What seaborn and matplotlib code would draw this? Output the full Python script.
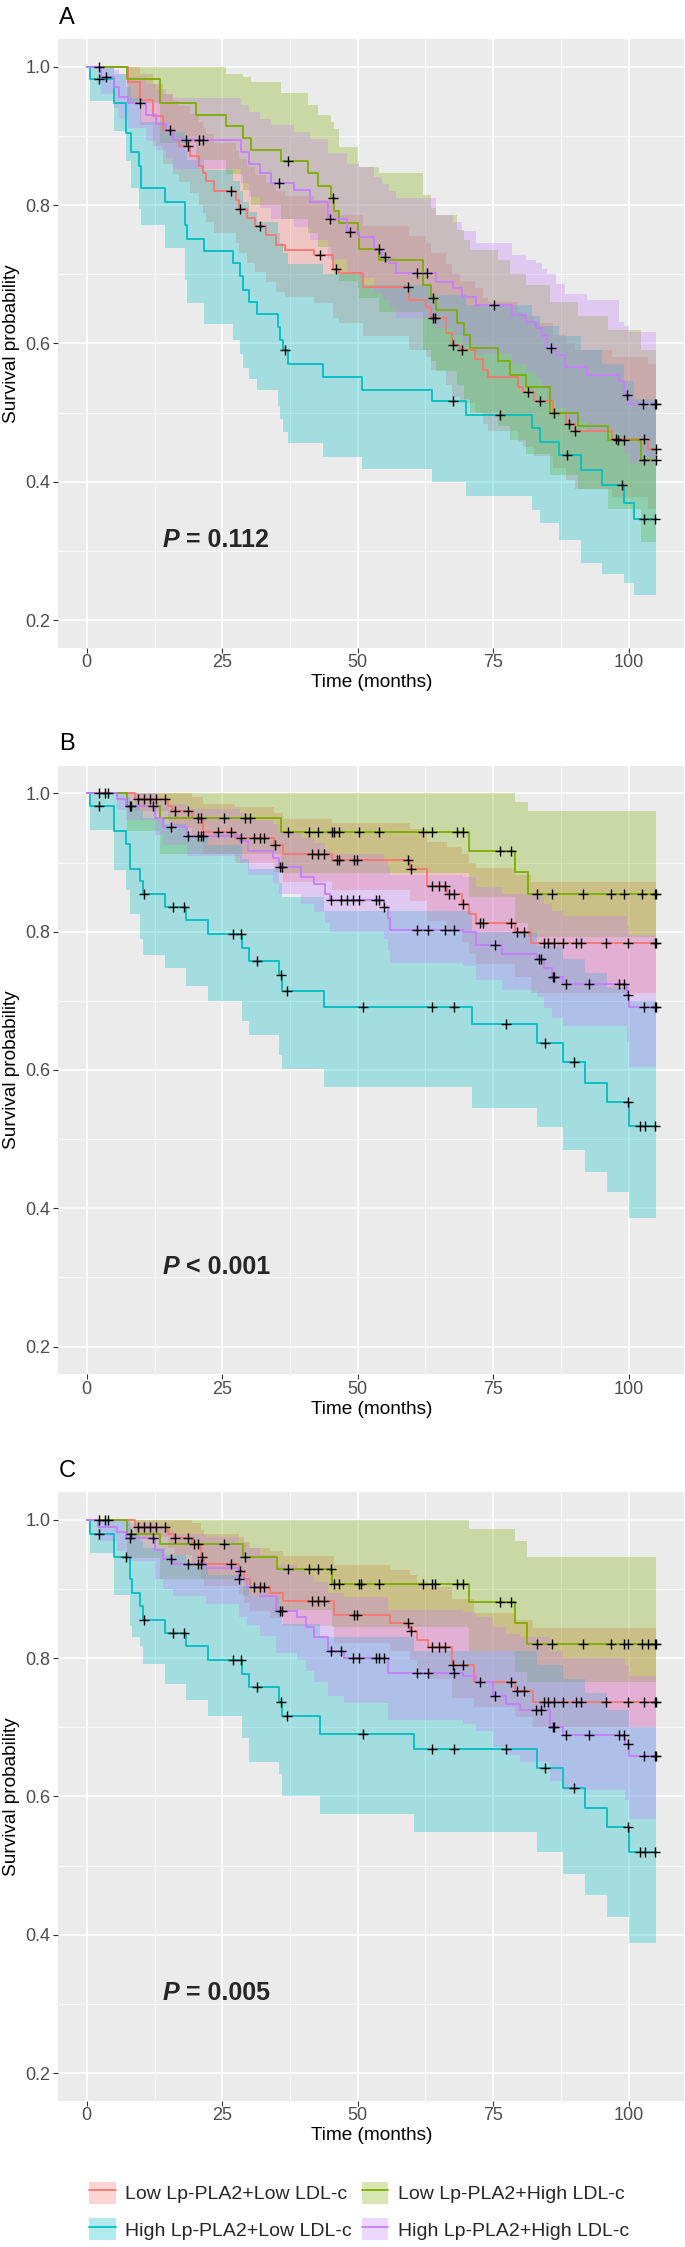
import numpy as np
import matplotlib
matplotlib.use("Agg")
import matplotlib.pyplot as plt
from matplotlib.patches import Patch
from matplotlib.lines import Line2D
import seaborn as sns

# group keys: ll = Low Lp-PLA2+Low LDL-c, lh = Low Lp-PLA2+High LDL-c,
#             hl = High Lp-PLA2+Low LDL-c, hh = High Lp-PLA2+High LDL-c
labels = {
    "ll": "Low Lp-PLA2+Low LDL-c",
    "lh": "Low Lp-PLA2+High LDL-c",
    "hl": "High Lp-PLA2+Low LDL-c",
    "hh": "High Lp-PLA2+High LDL-c",
}
pvals = ["= 0.112", "< 0.001", "= 0.005"]
panel_tags = ["A", "B", "C"]
x_ticks = [0, 25, 50, 75, 100]
y_ticks = [0.2, 0.4, 0.6, 0.8, 1.0]
end_time = 105

# ---------------- panel A ----------------
a_ll_t = [0, 7.6, 9.8, 12.2, 14.1, 15.9, 17.1, 19.0, 20.8, 21.4, 22.0, 23.5, 27.5, 28.0, 29.5, 31.0, 33.0, 35.0, 36.5, 42.0,
          45.5, 46.6, 50.9, 59.5, 62.6, 63.5, 66.2, 67.3, 68.8, 71.6, 73.2, 74.1, 79.6, 80.5, 82.5, 86.0, 88.5, 90.0, 97.0, 103.5]
a_ll_s = [1, .978, .952, .928, .908, .894, .885, .871, .856, .846, .834, .820, .807, .794, .781, .769, .756, .742, .735, .728,
          .707, .701, .682, .663, .653, .636, .615, .598, .590, .578, .561, .552, .537, .530, .517, .500, .484, .473, .462, .447]
a_ll_lo = [1, .95, .915, .885, .86, .845, .833, .817, .80, .788, .775, .76, .745, .73, .716, .703, .689, .674, .667, .659,
           .637, .63, .61, .59, .58, .562, .54, .522, .514, .50, .483, .474, .458, .45, .437, .42, .403, .39, .378, .36]
a_ll_hi = [1, 1, .99, .975, .96, .95, .943, .932, .92, .912, .902, .89, .878, .866, .855, .844, .832, .82, .813, .807,
           .79, .785, .77, .755, .745, .73, .715, .70, .69, .68, .665, .66, .645, .64, .63, .612, .60, .59, .58, .57]
a_ll_cens = [2.2, 18.7, 26.6, 28.2, 31.9, 43.0, 46.0, 59.2, 63.8, 64.2, 67.5, 69.2, 81.5, 83.6, 88.9, 90.1, 97.6, 102.8, 105]

a_lh_t = [0, 7.5, 13.5, 20.2, 25.6, 28.8, 30.3, 35.9, 40.8, 42.6, 45.0, 45.7, 46.6, 50.0, 50.3, 54.0, 62.0, 63.5, 64.5,
          68.4, 69.6, 70.8, 75.9, 78.0, 81.0, 85.4, 90.6, 96.1, 102.3]
a_lh_s = [1, .982, .947, .930, .914, .897, .880, .863, .846, .827, .810, .792, .774, .757, .737, .720, .684, .666, .648,
          .630, .612, .593, .574, .554, .537, .499, .480, .460, .431]
a_lh_lo = [1, .947, .89, .865, .845, .822, .80, .78, .76, .74, .72, .70, .69, .68, .665, .645, .59, .575, .56,
           .54, .52, .50, .48, .46, .44, .41, .39, .36, .313]
a_lh_hi = [1, 1, 1, 1, .99, .985, .978, .962, .945, .93, .92, .91, .884, .863, .855, .846, .815, .795, .785,
           .764, .75, .735, .72, .70, .685, .66, .64, .62, .59]
a_lh_cens = [37.1, 45.4, 53.9, 63.9, 86.2, 98.0, 99.2, 102.8, 105]

a_hl_t = [0, 0.6, 5.0, 7.3, 8.1, 9.7, 10.1, 14.5, 18.1, 18.5, 21.7, 27.0, 28.3, 28.8, 30.0, 31.4, 35.2, 35.7, 36.2, 37.1,
          43.5, 50.8, 63.7, 69.9, 82.2, 83.7, 87.1, 91.1, 95.1, 99.1, 100.9]
a_hl_s = [1, .982, .947, .904, .877, .857, .824, .804, .771, .751, .733, .716, .697, .677, .660, .643, .624, .605, .591, .570,
          .552, .533, .516, .496, .477, .458, .439, .417, .395, .369, .346]
a_hl_lo = [1, .95, .907, .864, .824, .794, .771, .738, .691, .658, .628, .605, .585, .565, .548, .532, .51, .49, .472, .456,
           .436, .419, .399, .379, .359, .34, .316, .283, .266, .253, .236]
a_hl_hi = [1, 1, .99, .97, .955, .94, .92, .905, .88, .865, .85, .835, .82, .805, .79, .775, .76, .745, .73, .715,
           .70, .685, .67, .655, .64, .625, .61, .59, .57, .545, .52]
a_hl_cens = [2.3, 36.5, 67.6, 76.3, 88.6, 98.8, 102.8, 104.8]

a_hh_t = [0, 2.6, 5.0, 5.9, 7.6, 11.0, 12.8, 14.6, 16.0, 28.5, 30.0, 32.0, 34.0, 38.3, 41.1, 44.5, 48.0, 50.3, 53.0,
          54.5, 55.8, 57.0, 64.5, 67.5, 69.3, 71.8, 78.5, 81.0, 82.8, 84.0, 85.0, 86.5, 88.3, 92.3, 98.2, 99.2, 100.0]
a_hh_s = [1, .985, .970, .956, .947, .930, .917, .908, .894, .877, .860, .846, .832, .822, .805, .780, .761, .754, .735,
          .725, .716, .701, .689, .680, .667, .655, .641, .631, .622, .610, .593, .583, .566, .554, .545, .525, .513]
a_hh_lo = [1, .96, .94, .925, .912, .893, .88, .868, .852, .832, .812, .796, .78, .768, .749, .722, .702, .694, .673,
           .662, .652, .636, .622, .612, .598, .585, .57, .558, .548, .535, .517, .506, .487, .474, .464, .442, .427]
a_hh_hi = [1, 1, .995, .99, .985, .975, .968, .96, .955, .945, .935, .925, .915, .905, .895, .875, .86, .855, .84,
           .83, .82, .81, .785, .775, .762, .745, .728, .72, .716, .708, .70, .686, .672, .663, .631, .625, .617]
a_hh_cens = [3.5, 9.8, 15.4, 18.4, 20.8, 21.4, 35.5, 44.9, 48.6, 55.0, 61.0, 62.7, 75.1, 85.6, 99.6, 102.6, 104.8, 105]

# ---------------- panel B ----------------
b_ll_t = [0, 8.9, 14.9, 15.7, 19.4, 21.5, 27.4, 34.5, 36.3, 45.2, 59.7, 62.7, 66.5, 69.2, 70.6, 71.8, 79.0, 81.9]
b_ll_s = [1, .992, .982, .974, .964, .944, .936, .925, .913, .903, .891, .866, .854, .840, .826, .813, .799, .783]
b_ll_lo = [1, .975, .96, .95, .937, .912, .90, .886, .872, .86, .845, .815, .80, .785, .768, .753, .735, .712]
b_ll_hi = [1, 1, 1, 1, .995, .985, .98, .972, .963, .957, .948, .93, .922, .912, .90, .892, .882, .872]
b_ll_cens = [2.3, 3.4, 4.0, 9.5, 10.5, 11.7, 12.7, 14.5, 16.3, 18.7, 20.6, 21.1, 24.2, 26.6, 28.4, 30.8, 31.9, 32.7,
             34.8, 41.5, 42.7, 43.7, 46.1, 46.6, 49.4, 49.9, 59.3, 59.8, 63.7, 64.9, 66.1, 66.9, 67.7, 69.4, 72.6,
             73.2, 78.2, 79.4, 80.6, 84.3, 85.1, 86.3, 87.9, 90.3, 91.1, 95.8, 99.8, 104.8, 105]

b_lh_t = [0, 7.5, 13.5, 35.9, 70.6, 79.0, 81.5]
b_lh_s = [1, .982, .964, .944, .916, .886, .854]
b_lh_lo = [1, .945, .913, .885, .85, .813, .793]
b_lh_hi = [1, 1, 1, 1, 1, .987, .974]
b_lh_cens = [8.1, 25.4, 29.2, 30.2, 37.1, 41.0, 42.6, 45.2, 45.6, 46.6, 50.2, 53.9, 62.1, 63.7, 68.4, 69.4, 76.2,
             78.2, 83.1, 85.9, 91.5, 96.8, 99.2, 102.4, 104.8, 105]

b_hl_t = [0, 0.6, 5.0, 7.3, 7.9, 9.8, 10.3, 14.5, 18.4, 22.4, 28.6, 30.0, 35.5, 36.1, 43.7, 71.0, 83.1, 87.9, 91.9, 96.0, 100.0]
b_hl_s = [1, .982, .946, .927, .891, .873, .854, .836, .817, .797, .777, .757, .737, .714, .691, .666, .639, .611, .581, .554, .519]
b_hl_lo = [1, .947, .889, .86, .826, .79, .767, .747, .722, .70, .671, .651, .621, .601, .575, .545, .517, .485, .452, .424, .386]
b_hl_hi = [1, 1, 1, .995, .985, .975, .965, .955, .94, .925, .905, .89, .87, .85, .83, .80, .78, .76, .74, .72, .70]
b_hl_cens = [2.3, 10.5, 16.0, 17.9, 27.0, 28.4, 31.5, 35.9, 36.9, 51.0, 63.7, 67.7, 77.3, 84.5, 89.9, 99.8, 102.0, 103.0, 104.8]

b_hh_t = [0, 5.6, 7.3, 12.5, 14.1, 18.5, 28.2, 29.8, 34.3, 35.5, 39.5, 41.9, 44.0, 44.8, 54.8, 55.6, 56.0, 69.4, 71.8,
          76.6, 83.1, 84.3, 85.9, 87.9, 99.6, 100.0]
b_hh_s = [1, .992, .982, .964, .951, .939, .931, .916, .906, .893, .879, .869, .854, .846, .836, .820, .803, .799, .781,
          .768, .760, .747, .734, .724, .709, .691]
b_hh_lo = [1, .976, .962, .94, .925, .91, .90, .882, .87, .855, .84, .828, .812, .80, .79, .772, .755, .75, .73,
           .715, .705, .69, .675, .663, .64, .605]
b_hh_hi = [1, 1, 1, .99, .985, .978, .972, .962, .955, .946, .936, .928, .918, .912, .905, .894, .882, .879, .865,
           .855, .85, .84, .83, .822, .81, .795]
b_hh_cens = [7.9, 12.3, 15.5, 18.6, 20.6, 21.1, 21.4, 35.6, 36.0, 45.0, 47.0, 48.0, 49.2, 50.2, 53.4, 53.9, 54.9,
             60.9, 62.9, 66.1, 67.7, 75.4, 83.5, 83.9, 86.0, 86.3, 88.5, 92.6, 98.2, 99.2, 99.8, 102.8, 104.8, 105]

# ---------------- panel C ----------------
c_ll_t = [0, 8.9, 14.9, 16.1, 19.4, 21.0, 21.6, 28.1, 29.0, 30.2, 33.9, 36.3, 45.6, 56.0, 59.7, 60.9, 63.0, 67.3, 71.5, 79.0, 82.3]
c_ll_s = [1, .990, .980, .974, .965, .946, .937, .926, .914, .903, .894, .883, .862, .851, .840, .827, .816, .790, .766, .752, .737]
c_ll_lo = [1, .975, .96, .95, .937, .915, .905, .893, .88, .868, .858, .846, .822, .81, .797, .783, .77, .743, .73, .715, .70]
c_ll_hi = [1, 1, 1, 1, .995, .985, .98, .975, .968, .96, .955, .948, .935, .928, .92, .91, .903, .885, .866, .855, .843]
c_ll_cens = [2.3, 3.4, 4.0, 9.5, 10.5, 11.7, 12.7, 14.5, 16.3, 18.7, 19.8, 20.6, 21.3, 26.6, 28.2, 30.8, 31.9, 32.7,
             41.5, 42.7, 43.7, 49.4, 49.9, 59.3, 59.8, 63.7, 64.9, 66.1, 67.5, 69.4, 72.6, 78.2, 79.4, 80.6, 84.3,
             85.1, 86.3, 87.9, 90.3, 91.1, 95.8, 99.8, 102.8, 104.8, 105]

c_lh_t = [0, 7.5, 13.5, 28.9, 35.1, 45.3, 70.6, 79.0, 81.2]
c_lh_s = [1, .980, .965, .946, .929, .908, .881, .851, .821]
c_lh_lo = [1, .945, .915, .89, .87, .845, .81, .78, .766]
c_lh_hi = [1, 1, 1, 1, 1, 1, .987, .97, .946]
c_lh_cens = [8.1, 25.4, 29.2, 37.1, 41.0, 42.6, 45.0, 45.6, 46.6, 50.2, 50.6, 53.9, 62.1, 63.7, 64.2, 68.4, 69.4,
             76.2, 78.2, 83.1, 85.9, 91.5, 96.8, 99.2, 99.8, 102.4, 103.6, 104.8, 105]

c_hl_t = [0, 0.6, 5.0, 7.9, 8.3, 9.8, 10.3, 14.5, 18.4, 22.4, 28.6, 30.0, 35.5, 36.1, 43.1, 60.3, 83.1, 87.9, 91.9, 96.0, 100.0]
c_hl_s = [1, .980, .946, .914, .894, .875, .856, .836, .818, .798, .777, .758, .737, .716, .691, .669, .641, .613, .583, .556, .520]
c_hl_lo = [1, .952, .892, .847, .83, .818, .792, .762, .74, .717, .684, .65, .632, .601, .575, .548, .52, .488, .457, .425, .388]
c_hl_hi = [1, 1, 1, .99, .98, .97, .96, .95, .935, .92, .905, .89, .87, .85, .83, .81, .79, .77, .75, .725, .70]
c_hl_cens = [2.3, 7.3, 10.5, 16.0, 17.9, 27.0, 28.4, 31.5, 35.9, 36.9, 51.0, 63.7, 67.7, 77.3, 84.5, 89.9, 99.8, 102.0, 103.0, 104.8]

c_hh_t = [0, 2.0, 5.6, 7.3, 12.5, 14.1, 16.0, 22.0, 28.0, 29.5, 32.0, 35.0, 38.7, 40.5, 42.0, 44.5, 47.5, 55.6, 69.4,
          71.8, 75.0, 77.4, 80.0, 85.5, 87.9, 99.4, 100.0]
c_hh_s = [1, .990, .982, .974, .956, .943, .937, .930, .914, .903, .890, .868, .859, .845, .830, .810, .801, .779, .775,
          .766, .746, .734, .725, .701, .689, .676, .658]
c_hh_lo = [1, .97, .955, .94, .915, .90, .89, .878, .86, .848, .832, .808, .797, .782, .766, .745, .735, .71, .705,
           .695, .672, .66, .65, .623, .61, .595, .568]
c_hh_hi = [1, 1, 1, .995, .99, .985, .98, .975, .967, .96, .95, .935, .93, .92, .91, .895, .888, .87, .867,
           .86, .845, .835, .83, .81, .80, .79, .775]
c_hh_cens = [7.9, 12.3, 15.5, 18.6, 20.6, 21.1, 28.1, 35.6, 36.0, 45.0, 47.0, 49.2, 50.2, 53.4, 53.9, 54.9, 60.9,
             62.9, 67.7, 75.4, 82.9, 83.9, 86.0, 86.3, 88.5, 92.6, 98.2, 99.2, 99.8, 102.8, 104.8, 105]

panels = [
    {"ll": (a_ll_t, a_ll_s, a_ll_lo, a_ll_hi, a_ll_cens), "lh": (a_lh_t, a_lh_s, a_lh_lo, a_lh_hi, a_lh_cens),
     "hl": (a_hl_t, a_hl_s, a_hl_lo, a_hl_hi, a_hl_cens), "hh": (a_hh_t, a_hh_s, a_hh_lo, a_hh_hi, a_hh_cens)},
    {"ll": (b_ll_t, b_ll_s, b_ll_lo, b_ll_hi, b_ll_cens), "lh": (b_lh_t, b_lh_s, b_lh_lo, b_lh_hi, b_lh_cens),
     "hl": (b_hl_t, b_hl_s, b_hl_lo, b_hl_hi, b_hl_cens), "hh": (b_hh_t, b_hh_s, b_hh_lo, b_hh_hi, b_hh_cens)},
    {"ll": (c_ll_t, c_ll_s, c_ll_lo, c_ll_hi, c_ll_cens), "lh": (c_lh_t, c_lh_s, c_lh_lo, c_lh_hi, c_lh_cens),
     "hl": (c_hl_t, c_hl_s, c_hl_lo, c_hl_hi, c_hl_cens), "hh": (c_hh_t, c_hh_s, c_hh_lo, c_hh_hi, c_hh_cens)},
]

colors = {"ll": "#F8766D", "lh": "#7CAE00", "hl": "#00BFC4", "hh": "#C77CFF"}

sns.set_theme(style="darkgrid")
plt.rcParams["font.family"] = ["Liberation Sans", "DejaVu Sans"]

W, H = 685, 2247
fig = plt.figure(figsize=(W / 100, H / 100), dpi=100)

# axes boxes in pixels (left, top, right, bottom)
boxes = [(58.3, 39, 684.3, 647.7), (58.3, 765.7, 684.3, 1374.3), (58.3, 1492.3, 684.3, 2100.7)]
tag_base = [24, 750, 1477]


def ext(v, last):
    return list(v) + [last]


for i, (data, box) in enumerate(zip(panels, boxes)):
    l, t, r, b = box
    ax = fig.add_axes([l / W, 1 - b / H, (r - l) / W, (b - t) / H])
    ax.set_facecolor("#EBEBEB")

    for g in ["ll", "lh", "hl", "hh"]:
        tt, ss, lo, hi, cens = data[g]
        sns.lineplot(x=ext(tt, end_time), y=ext(ss, ss[-1]), drawstyle="steps-post",
                     color=colors[g], lw=1.3, ax=ax, estimator=None, sort=False)
    for g in ["ll", "lh", "hl", "hh"]:
        tt, ss, lo, hi, cens = data[g]
        ax.fill_between(ext(tt, end_time), ext(lo, lo[-1]), ext(hi, hi[-1]), step="post",
                        color=colors[g], alpha=0.3, lw=0)
    for g in ["ll", "lh", "hl", "hh"]:
        tt, ss, lo, hi, cens = data[g]
        idx = np.searchsorted(tt, cens, side="right") - 1
        ax.plot(cens, np.array(ss)[idx], "+", color="black", ms=7, mew=1.0, zorder=5)

    ptxt = ax.text(13.9, 0.305, "P", fontsize=18, fontweight="bold", fontstyle="italic",
                   ha="left", va="baseline")
    ax.annotate(" " + pvals[i], xy=(1, 0), xycoords=ptxt, fontsize=18, fontweight="bold",
                ha="left", va="bottom")

    ax.set_xlim(-5.25, 110.25)
    ax.set_ylim(0.16, 1.04)
    ax.set_xticks(x_ticks)
    ax.set_xticks([12.5, 37.5, 62.5, 87.5], minor=True)
    ax.set_yticks(y_ticks)
    ax.set_yticklabels([f"{v:.1f}" for v in y_ticks])
    ax.set_yticks([0.3, 0.5, 0.7, 0.9], minor=True)
    ax.grid(which="major", color="white", lw=1.2)
    ax.grid(which="minor", color="white", lw=0.6)
    for sp in ax.spines.values():
        sp.set_visible(False)
    ax.tick_params(which="major", bottom=True, left=True, length=3.3, width=0.8, color="#333333",
                   labelcolor="#4D4D4D", labelsize=13)
    ax.tick_params(which="minor", length=0)
    ax.tick_params(axis="x", pad=1.5)
    ax.tick_params(axis="y", pad=2.5)
    ax.set_xlabel("Time (months)", fontsize=13.7, color="black", labelpad=2)
    ax.set_ylabel("Survival probability", fontsize=13.7, color="black", labelpad=4)

    fig.text(59 / W, 1 - tag_base[i] / H, panel_tags[i], fontsize=17, color="black",
             ha="left", va="baseline")

handles = []
names = []
for g in ["ll", "hl", "lh", "hh"]:
    handles.append((Patch(facecolor=colors[g], alpha=0.3, edgecolor="none"),
                    Line2D([], [], color=colors[g], lw=1.3)))
    names.append(labels[g])
fig.legend(handles, names, loc="center", bbox_to_anchor=(359 / W, 1 - 2211 / H), ncol=2,
           frameon=False, fontsize=14, handlelength=1.37, handleheight=1.37, handletextpad=0.5,
           columnspacing=0.5, labelspacing=0.74)

fig.savefig("out.png", dpi=100)
